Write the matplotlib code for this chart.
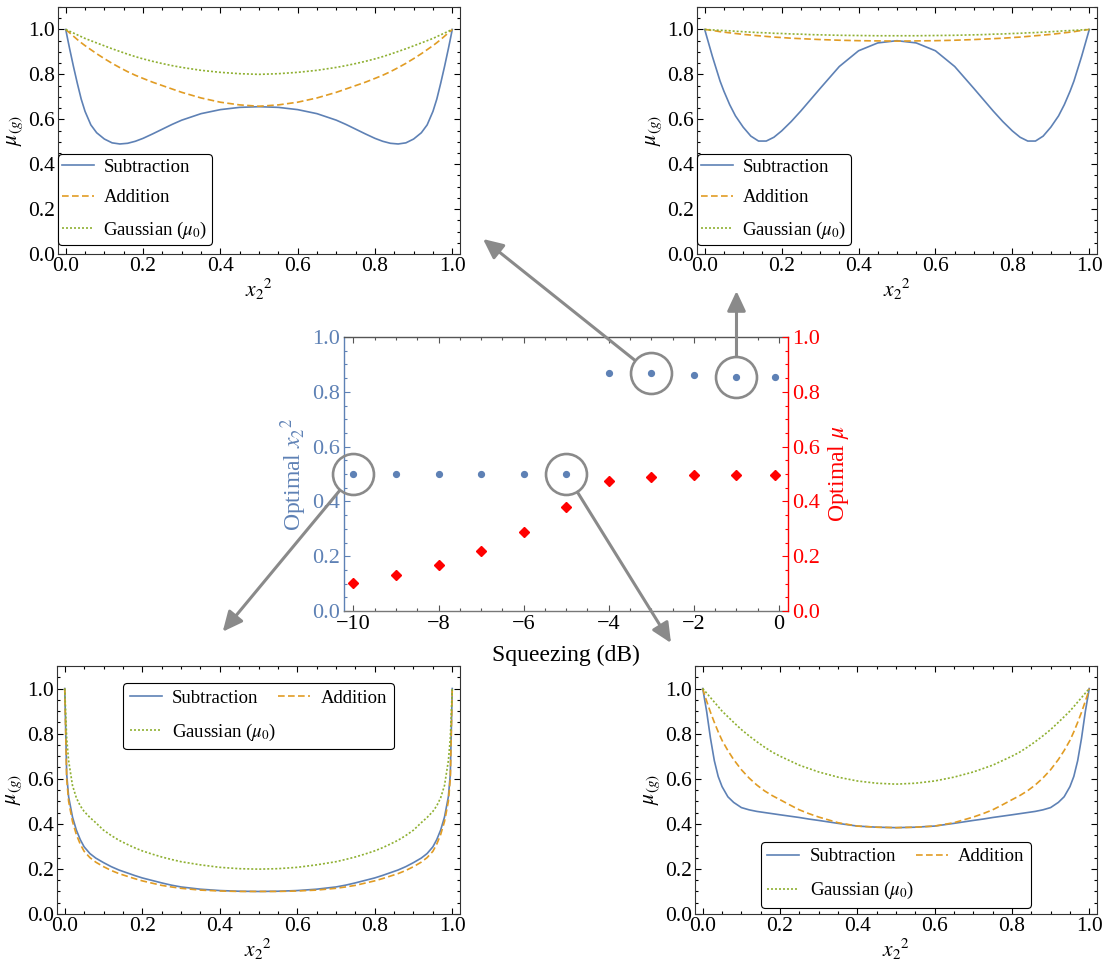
import matplotlib.pyplot as plt
from matplotlib.patches import ConnectionPatch
from matplotlib.ticker import MultipleLocator, FormatStrFormatter

plt.rcParams['font.family'] = ['Liberation Serif', 'DejaVu Serif']
plt.rcParams['mathtext.fontset'] = 'stix'

# ---- data ----
x2 = [0, 0.005, 0.01, 0.02, 0.03, 0.04, 0.05, 0.065, 0.08, 0.10, 0.12, 0.14, 0.16, 0.18, 0.20, 0.225, 0.25, 0.275,
      0.30, 0.35, 0.40, 0.45, 0.50,
      0.55, 0.60, 0.65, 0.70, 0.725, 0.75, 0.775, 0.80, 0.82, 0.84, 0.86, 0.88, 0.90, 0.92, 0.935, 0.95, 0.96,
      0.97, 0.98, 0.99, 0.995, 1.0]

# top left panel (-3 dB)
tl_sub = [1.0, 0.957, 0.915, 0.835, 0.76, 0.69, 0.635, 0.575, 0.54, 0.512, 0.495, 0.49, 0.493, 0.502, 0.515, 0.535,
          0.556, 0.577, 0.596, 0.625, 0.643, 0.653, 0.656,
          0.653, 0.643, 0.625, 0.596, 0.577, 0.556, 0.535, 0.515, 0.502, 0.493, 0.49, 0.495, 0.512, 0.54, 0.575,
          0.635, 0.69, 0.76, 0.835, 0.915, 0.957, 1.0]
tl_add = [1.0, 0.992, 0.985, 0.97, 0.955, 0.941, 0.928, 0.91, 0.892, 0.87, 0.849, 0.83, 0.812, 0.796, 0.782, 0.765,
          0.75, 0.735, 0.72, 0.695, 0.676, 0.664, 0.658,
          0.664, 0.676, 0.695, 0.72, 0.735, 0.75, 0.765, 0.782, 0.796, 0.812, 0.83, 0.849, 0.87, 0.892, 0.91,
          0.928, 0.941, 0.955, 0.97, 0.985, 0.992, 1.0]
tl_gau = [1.0, 0.996, 0.992, 0.984, 0.976, 0.968, 0.96, 0.95, 0.94, 0.927, 0.914, 0.902, 0.89, 0.879, 0.869, 0.858,
          0.848, 0.839, 0.831, 0.818, 0.809, 0.803, 0.80,
          0.803, 0.809, 0.818, 0.831, 0.839, 0.848, 0.858, 0.869, 0.879, 0.89, 0.902, 0.914, 0.927, 0.94, 0.95,
          0.96, 0.968, 0.976, 0.984, 0.992, 0.996, 1.0]

# top right panel (-1 dB)
tr_sub = [1.0, 0.97, 0.94, 0.88, 0.825, 0.77, 0.725, 0.665, 0.615, 0.565, 0.525, 0.503, 0.503, 0.52, 0.548, 0.59,
          0.637, 0.687, 0.737, 0.835, 0.905, 0.94, 0.95,
          0.94, 0.905, 0.835, 0.737, 0.687, 0.637, 0.59, 0.548, 0.52, 0.503, 0.503, 0.525, 0.565, 0.615, 0.665,
          0.725, 0.77, 0.825, 0.88, 0.94, 0.97, 1.0]
tr_add = [1.0, 0.999, 0.998, 0.995, 0.993, 0.99, 0.988, 0.985, 0.982, 0.978, 0.975, 0.972, 0.969, 0.966, 0.964, 0.961,
          0.959, 0.957, 0.955, 0.952, 0.95, 0.949, 0.948,
          0.949, 0.95, 0.952, 0.955, 0.957, 0.959, 0.961, 0.964, 0.966, 0.969, 0.972, 0.975, 0.978, 0.982, 0.985,
          0.988, 0.99, 0.993, 0.995, 0.998, 0.999, 1.0]
tr_gau = [1.0, 0.9995, 0.999, 0.998, 0.997, 0.996, 0.995, 0.994, 0.992, 0.99, 0.988, 0.986, 0.985, 0.983, 0.982, 0.98,
          0.979, 0.977, 0.976, 0.974, 0.973, 0.972, 0.972,
          0.972, 0.973, 0.974, 0.976, 0.977, 0.979, 0.98, 0.982, 0.983, 0.985, 0.986, 0.988, 0.99, 0.992, 0.994,
          0.995, 0.996, 0.997, 0.998, 0.999, 0.9995, 1.0]

# bottom left panel (-10 dB)
bl_sub = [1.0, 0.62, 0.52, 0.43, 0.372, 0.33, 0.298, 0.268, 0.248, 0.228, 0.21, 0.195, 0.183, 0.171, 0.16, 0.149,
          0.138, 0.128, 0.12, 0.11, 0.104, 0.101, 0.10,
          0.101, 0.104, 0.11, 0.12, 0.128, 0.138, 0.149, 0.16, 0.171, 0.183, 0.195, 0.21, 0.228, 0.248, 0.268,
          0.298, 0.33, 0.372, 0.43, 0.52, 0.62, 1.0]
bl_add = [1.0, 0.60, 0.50, 0.41, 0.352, 0.31, 0.278, 0.25, 0.23, 0.21, 0.193, 0.179, 0.168, 0.157, 0.147, 0.137,
          0.127, 0.12, 0.114, 0.106, 0.102, 0.10, 0.10,
          0.10, 0.102, 0.106, 0.114, 0.12, 0.127, 0.137, 0.147, 0.157, 0.168, 0.179, 0.193, 0.21, 0.23, 0.25,
          0.278, 0.31, 0.352, 0.41, 0.50, 0.60, 1.0]
bl_gau = [1.0, 0.78, 0.68, 0.57, 0.515, 0.48, 0.455, 0.428, 0.405, 0.372, 0.348, 0.327, 0.31, 0.294, 0.28, 0.266,
          0.253, 0.242, 0.232, 0.218, 0.207, 0.201, 0.199,
          0.201, 0.207, 0.218, 0.232, 0.242, 0.253, 0.266, 0.28, 0.294, 0.31, 0.327, 0.348, 0.372, 0.405, 0.428,
          0.455, 0.48, 0.515, 0.57, 0.68, 0.78, 1.0]

# bottom right panel (-5 dB)
br_sub = [1.0, 0.95, 0.9, 0.78, 0.68, 0.61, 0.565, 0.52, 0.495, 0.472, 0.462, 0.455, 0.45, 0.445, 0.44, 0.434,
          0.428, 0.421, 0.415, 0.402, 0.39, 0.385, 0.383,
          0.385, 0.39, 0.402, 0.415, 0.421, 0.428, 0.434, 0.44, 0.445, 0.45, 0.455, 0.462, 0.472, 0.495, 0.52,
          0.565, 0.61, 0.68, 0.78, 0.9, 0.95, 1.0]
br_add = [1.0, 0.97, 0.945, 0.895, 0.85, 0.808, 0.77, 0.725, 0.685, 0.64, 0.603, 0.572, 0.546, 0.525, 0.507, 0.484,
          0.462, 0.445, 0.43, 0.405, 0.39, 0.385, 0.383,
          0.385, 0.39, 0.405, 0.43, 0.445, 0.462, 0.484, 0.507, 0.525, 0.546, 0.572, 0.603, 0.64, 0.685, 0.725,
          0.77, 0.808, 0.85, 0.895, 0.945, 0.97, 1.0]
br_gau = [1.0, 0.99, 0.98, 0.96, 0.94, 0.92, 0.9, 0.875, 0.85, 0.818, 0.79, 0.764, 0.74, 0.718, 0.7, 0.68,
          0.66, 0.645, 0.63, 0.607, 0.59, 0.58, 0.576,
          0.58, 0.59, 0.607, 0.63, 0.645, 0.66, 0.68, 0.7, 0.718, 0.74, 0.764, 0.79, 0.818, 0.85, 0.875,
          0.9, 0.92, 0.94, 0.96, 0.98, 0.99, 1.0]

# centre panel
squeezing = [-10, -9, -8, -7, -6, -5, -4, -3, -2, -1, -0.1]
opt_x2 = [0.5, 0.5, 0.5, 0.5, 0.5, 0.5, 0.867, 0.867, 0.86, 0.854, 0.854]
opt_mu = [0.102, 0.131, 0.169, 0.220, 0.288, 0.380, 0.476, 0.490, 0.496, 0.498, 0.498]

labels = ['Subtraction', 'Addition', r'Gaussian ($\mu_0$)']

BLUE = '#5E81B5'
ORANGE = '#E19C24'
GREEN = '#8FB032'
GREY = '#8a8a8a'

W, H = 1104, 964
fig = plt.figure(figsize=(W / 100, H / 100), dpi=100)


def px_rect(l, t, r, b):
    return [l / W, 1 - b / H, (r - l) / W, (b - t) / H]


def panel(rect, sub, add, gau, two_cols, loc, anchor):
    ax = fig.add_axes(rect)
    l1, = ax.plot(x2, sub, color=BLUE, lw=1.2)
    l2, = ax.plot(x2, add, color=ORANGE, lw=1.2, ls=(0, (4, 2)))
    l3, = ax.plot(x2, gau, color=GREEN, lw=1.2, ls=(0, (1.2, 1.2)))
    ax.set_xlim(-0.02, 1.02)
    ax.set_ylim(0, 1.1)
    ax.xaxis.set_major_locator(MultipleLocator(0.2))
    ax.xaxis.set_minor_locator(MultipleLocator(0.05))
    ax.yaxis.set_major_locator(MultipleLocator(0.2))
    ax.yaxis.set_minor_locator(MultipleLocator(0.05))
    ax.xaxis.set_major_formatter(FormatStrFormatter('%.1f'))
    ax.yaxis.set_major_formatter(FormatStrFormatter('%.1f'))
    ax.tick_params(which='both', direction='in', top=True, right=True, labelsize=15.5, width=0.8)
    ax.tick_params(which='major', length=4.5, pad=2)
    ax.tick_params(which='minor', length=2.5)
    for s in ax.spines.values():
        s.set_linewidth(0.8)
        s.set_color('#333333')
    ax.set_xlabel(r'${x_2}^2$', fontsize=15.5, labelpad=1)
    ax.set_ylabel(r'$\mu_{(g)}$', fontsize=15.5, labelpad=2)
    if two_cols:
        handles = [l1, l3, l2]
        labs = [labels[0], labels[2], labels[1]]
        leg = ax.legend(handles, labs, ncol=2, loc=loc, bbox_to_anchor=anchor, fontsize=13.5,
                        labelspacing=0.78, columnspacing=0.1, handlelength=1.7, handletextpad=0.55,
                        borderaxespad=0, borderpad=0.35)
    else:
        leg = ax.legend([l1, l2, l3], labels, loc=loc, bbox_to_anchor=anchor, fontsize=13.5,
                        labelspacing=0.72, handlelength=1.7, handletextpad=0.5,
                        borderaxespad=0, borderpad=0.22)
    leg.get_frame().set_edgecolor('black')
    leg.get_frame().set_linewidth(0.8)
    leg.get_frame().set_alpha(1)
    return ax


panel(px_rect(58, 7, 460, 254), tl_sub, tl_add, tl_gau, False, 'lower left', (0, 0.036))
panel(px_rect(697, 7, 1097, 254), tr_sub, tr_add, tr_gau, False, 'lower left', (0, 0.036))
panel(px_rect(57, 666, 460, 914), bl_sub, bl_add, bl_gau, True, 'upper center', (0.5, 0.93))
panel(px_rect(695, 666, 1097, 914), br_sub, br_add, br_gau, True, 'lower center', (0.5, 0.025))

# ---- centre panel ----
ax = fig.add_axes(px_rect(344, 337, 788, 611))
ax2 = ax.twinx()
ax.plot(squeezing, opt_x2, 'o', color=BLUE, ms=4.2, zorder=3)
ax2.plot(squeezing, opt_mu, 'D', color='red', ms=4.6, zorder=3)
ax.set_xlim(-10.22, 0.21)
ax.set_ylim(0, 1)
ax2.set_ylim(0, 1)
ax.xaxis.set_major_locator(MultipleLocator(2))
ax.xaxis.set_minor_locator(MultipleLocator(0.5))
for a in (ax, ax2):
    a.yaxis.set_major_locator(MultipleLocator(0.2))
    a.yaxis.set_minor_locator(MultipleLocator(0.05))
    a.yaxis.set_major_formatter(FormatStrFormatter('%.1f'))
ax.tick_params(which='both', direction='in', top=True, labelsize=16, width=0.8)
ax.tick_params(which='major', length=4.5, pad=3)
ax.tick_params(which='minor', length=2.5)
ax.tick_params(axis='y', which='both', colors=BLUE, right=False)
ax.tick_params(axis='x', which='both', colors='#555555', labelcolor='black')
ax2.tick_params(axis='y', which='both', direction='in', colors='red', labelsize=16, width=0.8)
ax2.tick_params(axis='y', which='major', length=4.5, pad=3)
ax2.tick_params(axis='y', which='minor', length=2.5)
ax.spines['left'].set_color(BLUE)
ax.spines['top'].set_color('#555555')
ax.spines['bottom'].set_color('#777777')
ax.spines['right'].set_visible(False)
ax2.spines['right'].set_color('red')
for s in ('left', 'top', 'bottom'):
    ax2.spines[s].set_visible(False)
for s in ax.spines.values():
    s.set_linewidth(1.0)
ax2.spines['right'].set_linewidth(1.0)
ax.set_xlabel('Squeezing (dB)', fontsize=17, labelpad=8)
ax.set_ylabel(r'Optimal ${x_2}^2$', fontsize=17, color=BLUE, labelpad=2)
ax2.set_ylabel(r'Optimal $\mu$', fontsize=17, color='red', labelpad=4)

# circles round the selected points and arrows to the panels
picked = [(-3, 0.867, (483, 239)), (-1, 0.854, (736.5, 291)),
          (-10, 0.5, (222.7, 631.7)), (-5, 0.5, (671, 643))]
for sx, sy, tip in picked:
    ax.plot([sx], [sy], 'o', ms=29.5, mfc='none', mec=GREY, mew=1.9, zorder=4, clip_on=False)
    con = ConnectionPatch(xyA=(sx, sy), coordsA=ax.transData,
                          xyB=(tip[0] / W, 1 - tip[1] / H), coordsB=fig.transFigure,
                          arrowstyle='-|>,head_length=0.6,head_width=0.28', mutation_scale=20,
                          shrinkA=15.5, shrinkB=0, color=GREY, lw=2.2)
    fig.add_artist(con)

fig.savefig('out.png', dpi=100)
